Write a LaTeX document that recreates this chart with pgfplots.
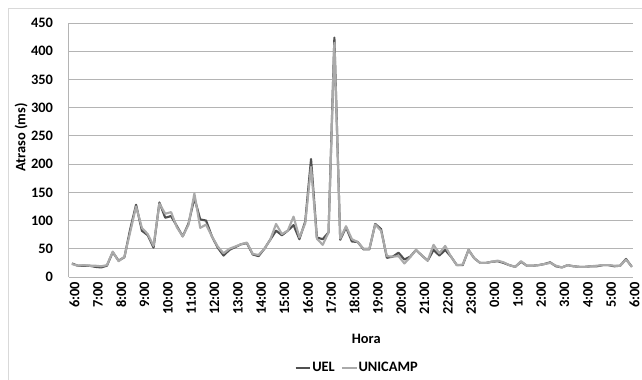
\documentclass[border=0pt]{standalone}
\usepackage{pgfplots}
\usepackage{pgfplotstable}
\pgfplotsset{compat=1.18}
\usepackage{fontspec}
\setmainfont{Carlito}
\definecolor{ueldark}{RGB}{80,80,80}
\definecolor{unilight}{RGB}{170,170,170}
\definecolor{gridc}{RGB}{180,180,180}
\definecolor{borderc}{RGB}{217,217,217}
\newcommand{\cf}{\fontsize{10.8}{13}\selectfont\bfseries}

\pgfplotstableread{
i uel uni
0 24 23
1 20 20
2 20 21
3 20 20
4 18 20
5 17 19
6 20 21
7 44 45
8 29 28
9 35 36
10 85 80
11 128 125
12 82 87
13 74 76
14 52 55
15 132 130
16 105 112
17 108 115
18 90 88
19 72 72
20 95 93
21 140 148
22 102 87
23 100 93
24 72 72
25 52 54
26 38 42
27 48 50
28 53 54
29 58 58
30 60 61
31 40 41
32 37 39
33 50 50
34 66 66
35 82 94
36 74 76
37 82 82
38 92 107
39 67 70
40 98 95
41 209 195
42 70 68
43 67 57
44 79 79
45 424 415
46 66 68
47 88 90
48 63 67
49 62 62
50 49 50
51 49 50
52 94 93
53 85 82
54 34 37
55 36 36
56 43 37
57 31 24
58 36 35
59 48 48
60 38 38
61 29 29
62 48 57
63 38 42
64 48 55
65 36 36
66 21 21
67 21 22
68 48 48
69 33 33
70 25 25
71 25 25
72 27 27
73 28 29
74 25 26
75 21 21
76 18 18
77 27 28
78 20 20
79 20 20
80 21 21
81 23 23
82 26 25
83 19 20
84 17 17
85 21 21
86 19 19
87 18 18
88 18 18
89 19 19
90 19 20
91 21 21
92 21 21
93 19 20
94 20 20
95 32 31
96 18 18
}\datatable

\begin{document}
\begin{tikzpicture}[font=\cf]
\useasboundingbox (0,0) rectangle (481.5pt,284.25pt);
\draw[borderc, line width=0.75pt] (6pt,-5pt) -- (6pt,277.5pt) -- (490pt,277.5pt);
\begin{axis}[
  at={(51.75pt,76.5pt)}, anchor=south west,
  width=423pt, height=190.5pt, scale only axis,
  xmin=-0.5, xmax=96.2, ymin=0, ymax=450,
  ytick={0,50,...,450},
  xtick={0,4,...,96},
  xticklabels={6:00,7:00,8:00,9:00,10:00,11:00,12:00,13:00,14:00,15:00,16:00,17:00,18:00,19:00,20:00,21:00,22:00,23:00,0:00,1:00,2:00,3:00,4:00,5:00,6:00},
  xticklabel style={rotate=90, anchor=east, yshift=-2pt, font=\cf},
  yticklabel style={anchor=east, xshift=-8.5pt, font=\cf},
  /pgf/number format/assume math mode=true,
  axis x line*=bottom, axis y line*=left,
  axis line style={gridc, line width=0.75pt, -},
  ymajorgrids, grid style={gridc, line width=0.75pt},
  major tick length=0pt,
  ylabel={Atraso (ms)},
  xlabel={Hora},
  every axis y label/.style={at={(axis description cs:-0.085,0.55)}, rotate=90, anchor=center, font=\cf},
  every axis x label/.style={at={(axis description cs:0.527,-0.244)}, anchor=center, font=\cf},
  legend style={draw=none, fill=none, at={(axis description cs:0.51,-0.358)}, anchor=center, legend columns=2, font=\cf, nodes={inner sep=0.6pt}, /tikz/every even column/.append style={column sep=4pt}},
  legend image code/.code={\draw[#1] (0pt,0pt) -- (11pt,0pt);},
  clip=false,
]
\addplot[ueldark, line width=1.6pt, line join=round] table[x=i, y=uel] {\datatable};
\addlegendentry{UEL}
\addplot[unilight, line width=1.6pt, line join=round] table[x=i, y=uni] {\datatable};
\addlegendentry{UNICAMP}
\end{axis}
\end{tikzpicture}
\end{document}
